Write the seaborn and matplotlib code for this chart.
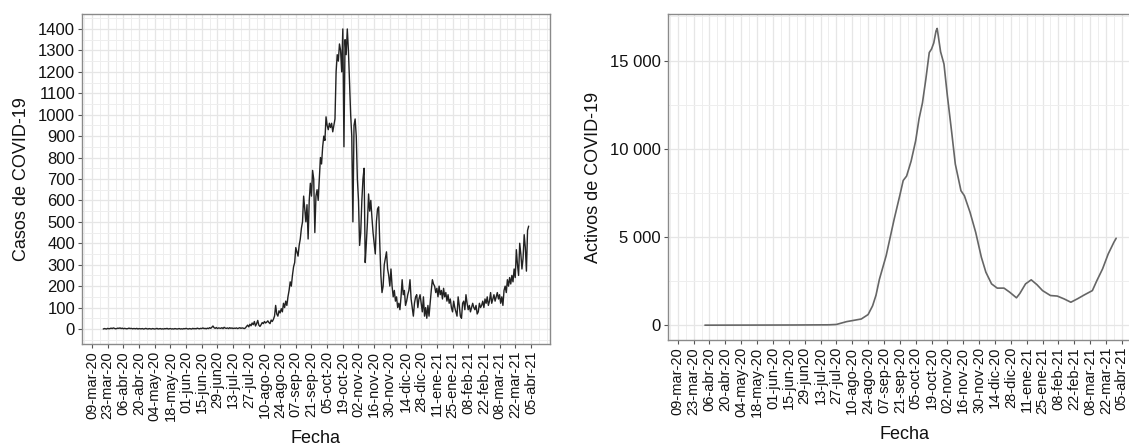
import pandas as pd
import seaborn as sns
import matplotlib.pyplot as plt
import matplotlib.dates as mdates
from matplotlib.ticker import MultipleLocator, FixedLocator

# Casos diarios de COVID-19, desde el 19-mar-20 (un valor por dia)
casos_inicio = '2020-03-19'
casos = [
    0, 2, 1, 0, 3, 1, 2,
    4, 2, 5, 3, 1, 2, 4,
    3, 5, 2, 4, 1, 3, 2,
    1, 2, 4, 2, 3, 1, 2,
    2, 1, 3, 0, 2, 1, 1,
    2, 0, 1, 3, 1, 0, 2,
    1, 0, 2, 1, 0, 1, 3,
    0, 1, 2, 0, 1, 0, 2,
    1, 3, 0, 1, 2, 0, 1,
    0, 2, 1, 0, 1, 2, 0,
    1, 0, 2, 1, 3, 1, 0,
    2, 1, 0, 3, 1, 2, 1,
    4, 2, 1, 3, 2, 5, 2,
    3, 1, 4, 2, 6, 3, 8,
    14, 6, 3, 7, 2, 5, 4,
    3, 6, 2, 8, 4, 3, 5,
    2, 6, 3, 5, 2, 4, 3,
    5, 2, 4, 6, 3, 5, 4,
    2, 5, 12, 18, 10, 22, 15,
    28, 20, 35, 14, 25, 40, 18,
    12, 20, 30, 25, 35, 28, 32,
    38, 30, 25, 42, 35, 45, 60,
    110, 70, 60, 85, 75, 95, 80,
    120, 100, 130, 110, 150, 180, 220,
    200, 250, 290, 310, 380, 360, 340,
    390, 420, 470, 500, 620, 560, 500,
    580, 420, 600, 680, 620, 740, 700,
    450, 620, 650, 600, 700, 800, 770,
    850, 900, 880, 990, 950, 930, 960,
    940, 960, 920, 950, 980, 1200, 1280,
    1250, 1330, 1300, 1200, 1400, 850, 1350,
    1280, 1400, 1300, 1150, 1000, 900, 500,
    950, 980, 900, 700, 600, 390, 450,
    600, 700, 750, 310, 400, 500, 630,
    550, 600, 520, 450, 400, 350, 500,
    560, 570, 400, 250, 170, 200, 300,
    330, 360, 280, 250, 200, 280, 200,
    150, 180, 130, 150, 100, 120, 90,
    150, 230, 160, 180, 110, 130, 160,
    180, 230, 140, 100, 60, 120, 150,
    160, 100, 140, 160, 120, 80, 150,
    60, 100, 50, 110, 60, 120, 180,
    230, 210, 200, 170, 190, 150, 200,
    160, 180, 140, 190, 150, 170, 130,
    160, 120, 140, 100, 80, 130, 100,
    80, 60, 150, 110, 60, 50, 120,
    130, 90, 160, 120, 90, 110, 80,
    100, 120, 100, 90, 110, 70, 80,
    120, 100, 110, 130, 100, 140, 120,
    150, 110, 130, 170, 120, 140, 160,
    130, 150, 170, 140, 160, 120, 150,
    110, 180, 200, 170, 230, 200, 240,
    210, 250, 220, 280, 240, 370, 300,
    250, 400, 350, 280, 330, 440, 380,
    270, 460, 480,
]

activos_fechas = [
    '2020-04-02', '2020-05-15', '2020-06-20', '2020-07-20', '2020-07-27',
    '2020-08-05', '2020-08-12', '2020-08-18', '2020-08-24', '2020-08-28',
    '2020-08-31', '2020-09-03', '2020-09-09', '2020-09-16', '2020-09-21',
    '2020-09-24', '2020-09-27', '2020-10-01', '2020-10-05', '2020-10-08',
    '2020-10-11', '2020-10-14', '2020-10-17', '2020-10-19', '2020-10-21',
    '2020-10-23', '2020-10-24', '2020-10-27', '2020-10-30', '2020-11-02',
    '2020-11-06', '2020-11-09', '2020-11-14', '2020-11-17', '2020-11-22',
    '2020-11-27', '2020-12-02', '2020-12-06', '2020-12-11', '2020-12-16',
    '2020-12-22', '2020-12-27', '2021-01-02', '2021-01-05', '2021-01-10',
    '2021-01-15', '2021-01-20', '2021-01-25', '2021-02-01', '2021-02-07',
    '2021-02-13', '2021-02-19', '2021-02-25', '2021-03-03', '2021-03-10',
    '2021-03-14', '2021-03-19', '2021-03-24', '2021-03-29', '2021-03-31',
]
activos = [
    0, 5, 10, 20, 40,
    200, 280, 350, 600, 1100,
    1700, 2600, 3950, 6000, 7350,
    8200, 8450, 9300, 10450, 11700,
    12600, 13950, 15450, 15650, 16000,
    16680, 16820, 15500, 14800, 13000,
    10830, 9130, 7620, 7340, 6400,
    5260, 3850, 3000, 2340, 2100,
    2100, 1870, 1550, 1800, 2340,
    2570, 2300, 1960, 1680, 1650,
    1490, 1300, 1500, 1720, 1960,
    2530, 3190, 4040, 4700, 4925,
]

fecha_ticks = pd.date_range('2020-03-09', '2021-04-05', freq='14D')
fecha_labels = [
    '09-mar-20', '23-mar-20', '06-abr-20', '20-abr-20', '04-may-20', '18-may-20',
    '01-jun-20', '15-jun-20', '29-jun20', '13-jul-20', '27-jul-20', '10-ago-20',
    '24-ago-20', '07-sep-20', '21-sep-20', '05-oct-20', '19-oct-20', '02-nov-20',
    '16-nov-20', '30-nov-20', '14-dic-20', '28-dic-20', '11-ene-21', '25-ene-21',
    '08-feb-21', '22-feb-21', '08-mar-21', '22-mar-21', '05-abr-21',
]
casos_yticks = list(range(0, 1500, 100))
activos_yticks = [0, 5000, 10000, 15000]
activos_ylabels = ['0', '5 000', '10 000', '15 000']

df_casos = pd.DataFrame({
    'fecha': pd.date_range(casos_inicio, periods=len(casos), freq='D'),
    'casos': casos,
})
df_activos = pd.DataFrame({'fecha': pd.to_datetime(activos_fechas), 'activos': activos})

sns.set_style('white')
plt.rcParams['font.family'] = ['Liberation Sans', 'DejaVu Sans']

fig = plt.figure(figsize=(11.29, 4.46), dpi=100)
ax1 = fig.add_axes([0.0726, 0.2287, 0.4145, 0.740])
ax2 = fig.add_axes([0.5917, 0.2377, 0.4190, 0.731])

sns.lineplot(data=df_casos, x='fecha', y='casos', ax=ax1, color='#222222', linewidth=1.0)
sns.lineplot(data=df_activos, x='fecha', y='activos', ax=ax2, color='#666666', linewidth=1.2)

minor_dates = mdates.date2num(pd.date_range('2020-03-02', '2021-04-26', freq='7D'))
base = pd.Timestamp('2020-03-09')

for ax, xl, yl in [(ax1, (-9, 409), (-70, 1470)), (ax2, (-8.6, 409), (-840, 17640))]:
    ax.set_xlim(base + pd.Timedelta(days=xl[0]), base + pd.Timedelta(days=xl[1]))
    ax.set_ylim(*yl)
    ax.set_xticks(fecha_ticks)
    ax.set_xticklabels(fecha_labels, rotation=90, fontsize=10.5, color='#111111')
    ax.xaxis.set_minor_locator(FixedLocator(minor_dates))
    ax.set_axisbelow(True)
    ax.grid(which='major', color='#e6e6e6', linewidth=0.9)
    ax.grid(which='minor', color='#eeeeee', linewidth=0.7)
    ax.tick_params(which='major', length=3, width=0.8, color='#555555', pad=2, bottom=True, left=True)
    ax.tick_params(which='minor', length=0)
    for s in ax.spines.values():
        s.set_color('#8a8a8a')
        s.set_linewidth(1.0)
    ax.set_xlabel('Fecha', fontsize=13, labelpad=6, color='#111111')

ax1.set_yticks(casos_yticks)
ax1.set_yticklabels([str(v) for v in casos_yticks], fontsize=12, color='#111111')
ax1.yaxis.set_minor_locator(MultipleLocator(50))
ax1.set_ylabel('Casos de COVID-19', fontsize=13, labelpad=6, color='#111111')

ax2.set_yticks(activos_yticks)
ax2.set_yticklabels(activos_ylabels, fontsize=12, color='#111111')
ax2.yaxis.set_minor_locator(MultipleLocator(2500))
ax2.set_ylabel('Activos de COVID-19', fontsize=13, labelpad=6, color='#111111')

fig.savefig('out.png', dpi=100)
